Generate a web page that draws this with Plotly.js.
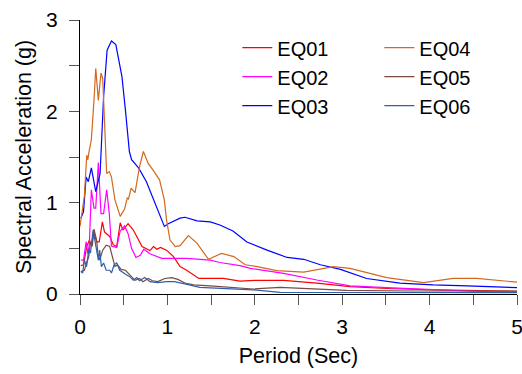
<!DOCTYPE html>
<html>
<head>
<meta charset="utf-8">
<script src="https://cdn.plot.ly/plotly-3.0.1.min.js"></script>
<style>
html,body{margin:0;padding:0;background:#fff;}
#chart{width:522px;height:374px;}
</style>
</head>
<body>
<div id="chart"></div>
<script>
// Series names and colours
var seriesNames = ["EQ01", "EQ02", "EQ03", "EQ04", "EQ05", "EQ06"];
var seriesColors = ["#ff0000", "#ff00ff", "#0000ff", "#d2691e", "#7a4a40", "#2f5fa8"];

// EQ01 (period in s, Sa in g)
var eq01X = [0.01,0.04,0.077,0.107,0.13,0.16,0.19,0.22,0.256,0.28,0.34,0.38,0.42,0.46,0.49,0.55,0.61,0.71,0.80,0.84,0.88,0.92,0.99,1.07,1.145,1.22,1.36,1.64,1.83,2.0,2.33,2.71,3.09,3.51,4.05,4.5,5.0];
var eq01Y = [0.31,0.32,0.52,0.59,0.54,0.67,0.57,0.57,0.79,0.68,0.63,0.54,0.52,0.78,0.70,0.77,0.70,0.52,0.475,0.52,0.49,0.51,0.48,0.41,0.30,0.26,0.17,0.17,0.14,0.15,0.15,0.12,0.08,0.06,0.045,0.035,0.03];

// EQ02
var eq02X = [0.01,0.04,0.07,0.09,0.107,0.13,0.16,0.18,0.21,0.24,0.27,0.305,0.335,0.36,0.42,0.46,0.51,0.55,0.59,0.64,0.69,0.73,0.80,0.935,1.22,1.49,1.6,1.83,1.95,2.18,2.33,2.71,3.09,3.51,4.05,4.5,5.0];
var eq02Y = [0.37,0.37,0.57,0.44,0.55,1.14,0.94,0.94,1.44,0.88,0.88,1.14,0.88,0.525,0.51,0.69,0.745,0.66,0.50,0.40,0.425,0.49,0.44,0.39,0.39,0.37,0.345,0.31,0.28,0.245,0.226,0.153,0.09,0.07,0.045,0.03,0.02];

// EQ03
var eq03X = [0.01,0.04,0.07,0.095,0.13,0.18,0.23,0.27,0.31,0.36,0.41,0.48,0.52,0.565,0.59,0.67,0.76,0.86,0.965,1.01,1.145,1.2,1.34,1.49,1.6,1.75,1.91,2.14,2.37,2.56,2.75,2.98,3.28,3.66,4.04,4.43,5.0];
var eq03Y = [0.83,0.90,1.28,1.23,1.38,1.12,1.32,2.16,2.67,2.77,2.73,2.38,2.01,1.56,1.47,1.38,1.23,0.99,0.74,0.77,0.83,0.84,0.80,0.79,0.755,0.69,0.57,0.48,0.40,0.38,0.32,0.27,0.17,0.12,0.10,0.09,0.07];

// EQ04
var eq04X = [0.0,0.05,0.077,0.09,0.10,0.13,0.16,0.18,0.21,0.24,0.26,0.28,0.305,0.335,0.36,0.40,0.46,0.51,0.54,0.555,0.585,0.63,0.68,0.725,0.78,0.84,0.91,0.965,0.99,1.03,1.09,1.145,1.24,1.34,1.47,1.62,1.76,1.89,2.03,2.25,2.56,2.9,3.09,3.51,3.93,4.27,4.54,5.0];
var eq04Y = [0.74,1.07,1.52,1.47,1.54,1.69,2.12,2.47,2.12,2.42,2.36,1.83,1.32,1.34,1.28,1.03,0.85,0.93,1.05,1.04,1.16,1.11,1.39,1.56,1.43,1.35,1.25,1.03,0.81,0.59,0.52,0.53,0.64,0.555,0.38,0.445,0.41,0.32,0.30,0.255,0.24,0.30,0.28,0.18,0.125,0.17,0.17,0.13];

// EQ05
var eq05X = [0.01,0.05,0.075,0.10,0.12,0.14,0.16,0.19,0.205,0.225,0.26,0.30,0.34,0.37,0.40,0.43,0.47,0.52,0.57,0.63,0.68,0.72,0.78,0.83,0.89,0.97,1.05,1.12,1.2,1.3,1.49,1.64,1.98,2.29,2.67,3.05,3.81,5.0];
var eq05Y = [0.245,0.26,0.34,0.41,0.57,0.52,0.71,0.59,0.445,0.37,0.48,0.535,0.52,0.41,0.30,0.32,0.27,0.26,0.21,0.15,0.17,0.135,0.17,0.145,0.135,0.17,0.18,0.16,0.12,0.10,0.088,0.08,0.055,0.073,0.055,0.04,0.033,0.033];

// EQ06
var eq06X = [0.01,0.03,0.05,0.075,0.10,0.12,0.15,0.17,0.19,0.21,0.225,0.245,0.27,0.30,0.34,0.36,0.39,0.42,0.455,0.49,0.53,0.57,0.61,0.65,0.68,0.74,0.80,0.89,0.99,1.08,1.145,1.2,1.37,1.72,1.98,2.29,3.0,5.0];
var eq06Y = [0.245,0.23,0.37,0.30,0.48,0.45,0.70,0.59,0.445,0.37,0.48,0.30,0.34,0.26,0.26,0.23,0.32,0.34,0.26,0.235,0.21,0.19,0.15,0.18,0.145,0.18,0.135,0.125,0.135,0.135,0.117,0.11,0.073,0.06,0.045,0.018,0.018,0.015];

// Axis ticks
var xTickVals = [0,1,2,3,4,5];
var xTickText = ["0","1","2","3","4","5"];
var yTickVals = [0,1,2,3];
var yTickText = ["0","1","2","3"];

var xs = [eq01X, eq02X, eq03X, eq04X, eq05X, eq06X];
var ys = [eq01Y, eq02Y, eq03Y, eq04Y, eq05Y, eq06Y];

var traces = seriesNames.map(function(name, i){
  return {
    type: "scatter",
    mode: "lines",
    name: name,
    x: xs[i],
    y: ys[i],
    line: {color: seriesColors[i], width: 1.2},
    legend: i < 3 ? "legend" : "legend2"
  };
});

var fam = "Liberation Sans, Arial, sans-serif";
var legendFont = {family: fam, size: 20, color: "#000"};
var tickFont = {family: fam, size: 21, color: "#000"};
var titleFont = {family: fam, size: 21.5, color: "#000"};

var legendBase = {
  orientation: "v",
  bgcolor: "rgba(0,0,0,0)",
  borderwidth: 0,
  font: legendFont,
  xanchor: "left",
  yanchor: "top",
  itemwidth: 30,
  tracegroupgap: 0
};

var layout = {
  width: 522,
  height: 374,
  margin: {l: 80, r: 5, t: 20, b: 80},
  paper_bgcolor: "#fff",
  plot_bgcolor: "#fff",
  font: legendFont,
  showlegend: true,
  legend: Object.assign({}, legendBase, {x: 0.36, y: 0.97}),
  legend2: Object.assign({}, legendBase, {x: 0.685, y: 0.97}),
  xaxis: {
    range: [0, 5],
    tickvals: xTickVals,
    ticktext: xTickText,
    ticks: "outside",
    ticklen: 10,
    tickcolor: "#555",
    tickwidth: 1,
    minor: {dtick: 0.5, ticks: "outside", ticklen: 10, tickcolor: "#555", tickwidth: 1},
    showline: true,
    linecolor: "#000",
    linewidth: 1,
    showgrid: false,
    zeroline: false,
    ticklabelstandoff: 4,
    ticklabeloverflow: "allow",
    tickfont: tickFont,
    title: {text: "Period (Sec)", font: titleFont, standoff: 10}
  },
  yaxis: {
    range: [0, 3],
    tickvals: yTickVals,
    ticktext: yTickText,
    ticks: "outside",
    ticklen: 10,
    tickcolor: "#555",
    tickwidth: 1,
    minor: {dtick: 0.5, ticks: "outside", ticklen: 10, tickcolor: "#555", tickwidth: 1},
    showline: true,
    linecolor: "#000",
    linewidth: 1,
    showgrid: false,
    zeroline: false,
    ticklabelstandoff: 7,
    ticklabeloverflow: "allow",
    tickfont: tickFont,
    title: {text: "Spectral Acceleration (g)", font: titleFont, standoff: 8}
  }
};

Plotly.newPlot("chart", traces, layout, {displayModeBar: false, staticPlot: true});
</script>
</body>
</html>
